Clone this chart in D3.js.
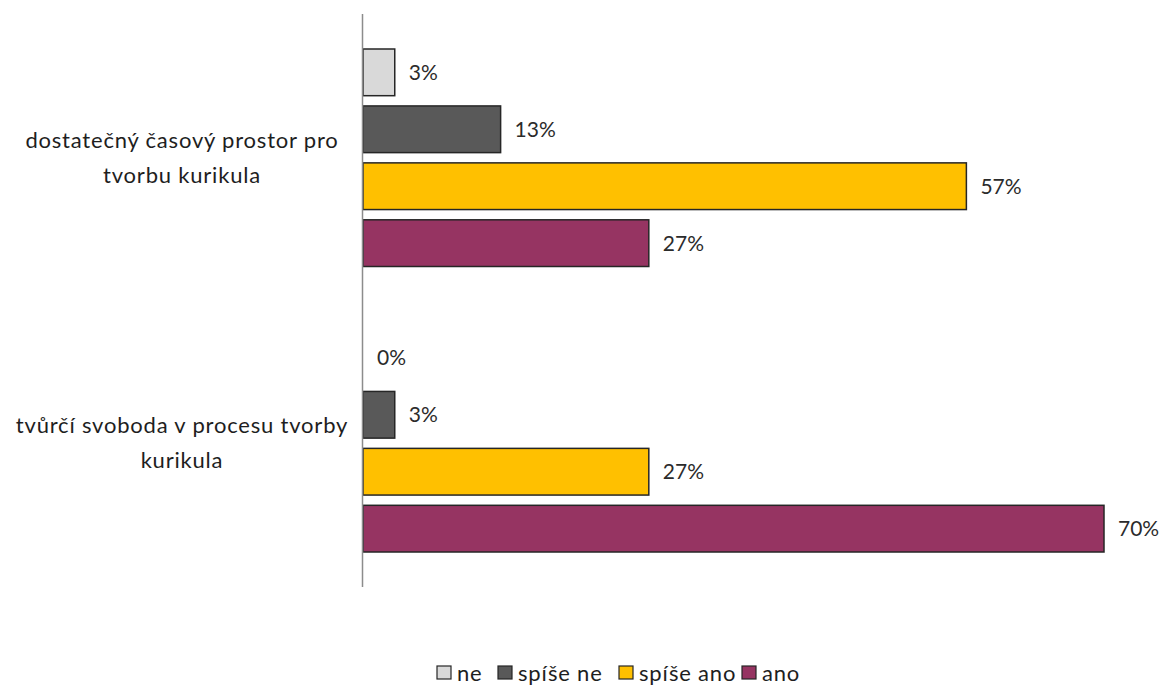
<!DOCTYPE html>
<html>
<head>
<meta charset="utf-8">
<script src="https://cdn.jsdelivr.net/npm/d3@7"></script>
<style>
  html, body { margin: 0; padding: 0; background: #fff; }
  svg { display: block; }
  text { font-family: Lato, "Open Sans", sans-serif; }
</style>
</head>
<body>
<svg id="chart" width="1164" height="685"></svg>
<script>
// Survey answers per statement (share of respondents, %)
const categories = [
  ["dostatečný časový prostor pro", "tvorbu kurikula"],
  ["tvůrčí svoboda v procesu tvorby", "kurikula"]
];
const seriesNames = ["ne", "spíše ne", "spíše ano", "ano"];
const seriesColors = ["#d9d9d9", "#595959", "#ffc000", "#963462"];
const valuesNe       = [3, 0];
const valuesSpiseNe  = [13, 3];
const valuesSpiseAno = [57, 27];
const valuesAno      = [27, 70];

const seriesValues = [valuesNe, valuesSpiseNe, valuesSpiseAno, valuesAno];

const svg = d3.select("#chart");

const plot = { left: 363, right: 1104, top: 15, bottom: 586 };

const x = d3.scaleLinear().domain([0, 70]).range([plot.left, plot.right]);

const yCat = d3.scaleBand()
  .domain(d3.range(categories.length))
  .range([plot.top, plot.bottom])
  .padding(0);

const groupInset = 34;
const ySer = d3.scaleBand()
  .domain(d3.range(seriesNames.length))
  .range([groupInset, yCat.bandwidth() - groupInset])
  .paddingInner(0.18)
  .paddingOuter(0);

const fmt = v => d3.format("d")(v) + "%";

// Bars and value labels
categories.forEach((cat, ci) => {
  const g = svg.append("g")
    .attr("transform", `translate(0,${yCat(ci)})`);
  seriesNames.forEach((name, si) => {
    const v = seriesValues[si][ci];
    const y0 = ySer(si);
    if (v > 0) {
      g.append("rect")
        .attr("x", x(0))
        .attr("y", y0)
        .attr("width", x(v) - x(0))
        .attr("height", ySer.bandwidth())
        .attr("fill", seriesColors[si])
        .attr("stroke", "#262626")
        .attr("stroke-width", 1.5);
    }
    g.append("text")
      .attr("x", x(v) + 14)
      .attr("y", y0 + ySer.bandwidth() / 2)
      .attr("dy", "0.35em")
      .attr("font-size", 21)
      .attr("fill", "#2b2b2b")
      .text(fmt(v));
  });

  // Category label (two lines, centred)
  const lab = svg.append("text")
    .attr("text-anchor", "middle")
    .attr("font-size", 22)
    .attr("letter-spacing", 0.8)
    .attr("fill", "#1e1e1e");
  const cy = yCat(ci) + yCat.bandwidth() / 2;
  cat.forEach((line, li) => {
    lab.append("tspan")
      .attr("x", 182)
      .attr("y", cy + (li - (cat.length - 1) / 2) * 35)
      .attr("dy", "0.35em")
      .text(line);
  });
});

// Vertical category axis line
svg.append("line")
  .attr("x1", x(0) - 0.5).attr("x2", x(0) - 0.5)
  .attr("y1", plot.top - 1).attr("y2", plot.bottom + 1)
  .attr("stroke", "#8c8c8c")
  .attr("stroke-width", 1.5);

// Legend
const legend = svg.append("g").attr("transform", "translate(437,673)");
const legendOffsets = [0, 61, 182, 305];
seriesNames.forEach((name, si) => {
  const item = legend.append("g").attr("transform", `translate(${legendOffsets[si]},0)`);
  item.append("rect")
    .attr("x", 0).attr("y", -7)
    .attr("width", 14).attr("height", 13)
    .attr("fill", seriesColors[si])
    .attr("stroke", "#262626")
    .attr("stroke-width", 1.2);
  item.append("text")
    .attr("x", 20).attr("y", 0)
    .attr("dy", "0.35em")
    .attr("font-size", 22)
    .attr("letter-spacing", 0.8)
    .attr("fill", "#1e1e1e")
    .text(name);
});
</script>
</body>
</html>
